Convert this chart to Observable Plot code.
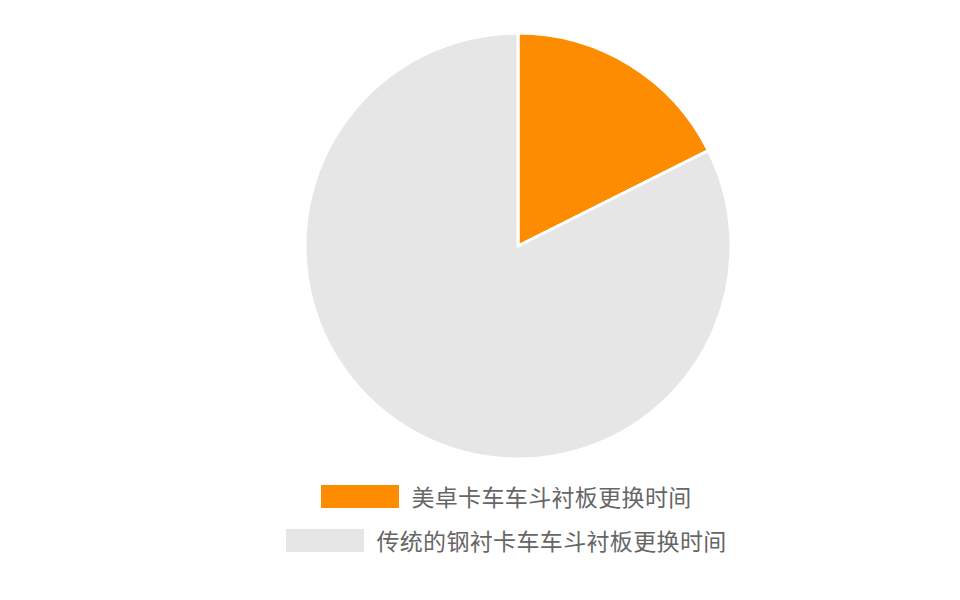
<!DOCTYPE html>
<html>
<head>
<meta charset="utf-8">
<script src="https://cdn.jsdelivr.net/npm/d3@7"></script>
<script src="https://cdn.jsdelivr.net/npm/@observablehq/plot@0.6"></script>
<style>
  html, body { margin: 0; padding: 0; background: #fff; }
  #wrap { position: relative; width: 960px; height: 600px; font-family: "Noto Sans CJK SC", sans-serif; }
  #legend { position: absolute; left: 54px; top: 474px; width: 905px; display: flex; flex-direction: column; align-items: center; }
  .row { display: flex; align-items: center; height: 44px; }
  .sw { width: 78px; height: 23px; margin-right: 12px; }
  .lab { font-size: 23px; letter-spacing: 0.35px; color: #666; white-space: nowrap; }
</style>
</head>
<body>
<div id="wrap"><div id="chart"></div><div id="legend"></div></div>
<script>
const categories = ["美卓卡车车斗衬板更换时间", "传统的钢衬卡车车斗衬板更换时间"];
const values = [17.6, 82.4];
const colors = ["#fd8c00", "#e6e6e6"];

const data = categories.map((c, i) => ({category: c, value: values[i], color: colors[i]}));
const arcs = d3.pie().sort(null).value(d => d.value)(data);

const pieMark = (index, scales, vals, dims) => {
  const cx = scales.x(0), cy = scales.y(0);
  const r = Math.abs(scales.x(1) - scales.x(0));
  const g = d3.create("svg:g").attr("transform", `translate(${cx},${cy})`);
  const arc = d3.arc().innerRadius(0).outerRadius(r);
  g.selectAll("path").data(arcs).join("path")
    .attr("d", arc)
    .attr("fill", d => d.data.color)
    .attr("stroke", "#fff")
    .attr("stroke-width", 3)
    .attr("stroke-linejoin", "round");
  return g.node();
};

const chart = Plot.plot({
  width: 960,
  height: 474,
  marginLeft: 0, marginRight: 0, marginTop: 0, marginBottom: 0,
  x: {type: "linear", domain: [-518/213, (960-518)/213], range: [0, 960], axis: null},
  y: {type: "linear", domain: [246/213, -(474-246)/213], range: [0, 474], axis: null},
  marks: [
    Plot.frame({stroke: "none"}),
    pieMark
  ]
});
document.getElementById("chart").appendChild(chart);

const legend = d3.select("#legend");
data.forEach(d => {
  const row = legend.append("div").attr("class", "row");
  row.append("div").attr("class", "sw").style("background", d.color);
  row.append("div").attr("class", "lab").text(d.category);
});
</script>
</body>
</html>
